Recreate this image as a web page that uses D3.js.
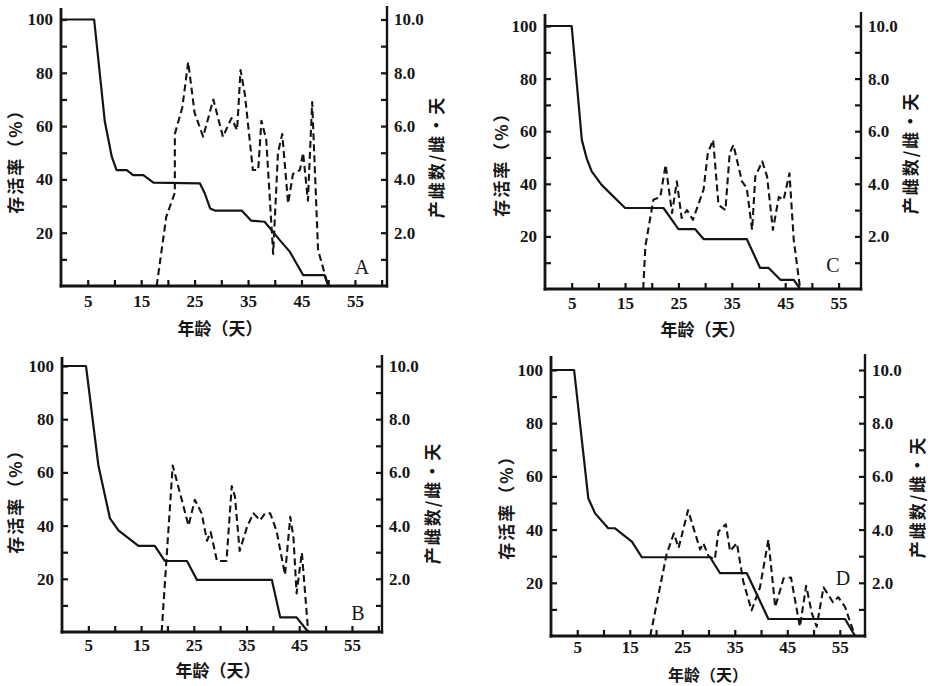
<!DOCTYPE html>
<html>
<head>
<meta charset="utf-8">
<script src="https://cdn.jsdelivr.net/npm/d3@7"></script>
<style>
  body { margin: 0; background: #fff; }
  svg { display: block; }
  .num { font-family: "Liberation Serif", "DejaVu Serif", serif; font-weight: bold; font-size: 17px; fill: #161616; }
  .cjk { font-family: "Noto Sans CJK SC", sans-serif; font-weight: 700; font-size: 17px; fill: #161616; }
  .letter { font-family: "Liberation Serif", serif; font-size: 20px; fill: #161616; }
</style>
</head>
<body>
<svg id="chart" width="937" height="686"></svg>
<script>
// tick values
const leftTicks = [10, 20, 30, 40, 50, 60, 70, 80, 90, 100];
const rightTicks = [1, 2, 3, 4, 5, 6, 7, 8, 9, 10];
const xTicks = [5, 10, 15, 20, 25, 30, 35, 40, 45, 50, 55, 60];

// A: survival (%) and daily fecundity
const survDayA = [0, 6.2, 8.2, 9.5, 10.4, 12.3, 13.5, 15.4, 17.3, 26, 26.9, 27.9, 28.8, 33.8, 35.6, 38.1, 40.9, 42.8, 45.3, 49.3, 50];
const survA = [100, 100, 61.7, 48.5, 43.5, 43.5, 41.6, 41.6, 38.8, 38.5, 34.8, 29.1, 28.3, 28.3, 24.5, 24.1, 17.3, 12.9, 4.1, 4.1, 0];
const eggDayA = [17.9, 19.7, 21.3, 21.3, 22.7, 23.8, 25, 26.6, 28.5, 30.3, 31.9, 32.95, 33.6, 34.4, 35.9, 36.9, 37.5, 38.4, 39.7, 40.6, 41.4, 42.5, 43.4, 44.7, 45.3, 46.2, 47.0, 48.1, 50];
const eggA = [0, 2.6, 3.5, 5.7, 6.7, 8.4, 6.5, 5.6, 7.0, 5.6, 6.3, 5.85, 8.1, 7.2, 4.35, 4.35, 6.2, 5.5, 1.2, 5.0, 5.7, 3.1, 4.2, 4.35, 5.0, 3.2, 6.9, 1.35, 0];

// B
const survDayB = [0, 4.55, 6.9, 9.1, 10.7, 14.5, 17.6, 19.5, 23.7, 25.6, 39.8, 41.4, 44.5, 46.7];
const survB = [100, 100, 62.6, 42.7, 38.2, 32.4, 32.4, 26.7, 26.7, 19.6, 19.6, 5.5, 5.5, 0];
const eggDayB = [18.9, 21, 24, 25.2, 26.5, 27.5, 28.2, 29.4, 31.2, 32.2, 32.8, 33.7, 35.1, 36.3, 37.6, 38.5, 39.5, 40.7, 42.3, 43.3, 43.9, 44.5, 45.5, 46.7];
const eggB = [0, 6.26, 4.0, 4.97, 4.46, 3.43, 3.76, 2.67, 2.67, 5.49, 5.1, 3.05, 3.95, 4.46, 4.2, 4.46, 4.46, 3.8, 2.15, 4.33, 3.56, 1.45, 2.99, 0];

// C
const survDayC = [0, 5.0, 6.9, 7.8, 8.75, 10.6, 15.0, 22.2, 25.0, 28.1, 29.7, 37.8, 40.3, 41.9, 44.1, 46.6, 47.8];
const survC = [100, 100, 56.7, 49.7, 44.7, 39.6, 30.8, 30.8, 22.8, 22.8, 19.0, 19.0, 8.0, 8.0, 3.5, 3.5, 0];
const eggDayC = [18.4, 18.8, 20.3, 21.6, 22.6, 23.8, 24.7, 25.6, 26.6, 27.7, 29.7, 30.5, 31.5, 32.5, 33.8, 34.6, 35.3, 36.9, 37.8, 38.8, 39.4, 40.7, 41.6, 42.7, 43.8, 44.7, 45.8, 46.6, 47.8];
const eggC = [0, 1.62, 3.39, 3.5, 4.72, 2.89, 4.09, 2.7, 3.0, 2.63, 3.77, 5.16, 5.67, 3.2, 3.0, 5.16, 5.48, 4.09, 3.84, 2.25, 4.28, 4.85, 4.28, 2.25, 3.5, 3.39, 4.4, 1.87, 0];

// D
const survDayD = [0, 4.4, 7.1, 8.4, 10.9, 12.2, 15.4, 17.3, 30.3, 32.2, 37.3, 41.4, 56.0, 57.9];
const survD = [100, 100, 51.8, 46.1, 40.5, 40.5, 35.5, 29.6, 29.6, 23.6, 23.6, 6.4, 6.4, 0];
const eggDayD = [18.9, 22.0, 23.4, 24.3, 26.1, 28.4, 29.0, 30.0, 31.2, 31.9, 33.3, 34.1, 35.4, 36.6, 38.2, 39.8, 41.4, 42.7, 44.3, 45.7, 47.4, 48.6, 49.7, 50.6, 51.9, 53.7, 54.7, 56.0, 57.9];
const eggD = [0, 3.06, 3.86, 3.31, 4.73, 3.25, 3.49, 3.0, 2.88, 3.93, 4.2, 3.19, 3.49, 2.07, 0.96, 1.83, 3.62, 1.09, 2.17, 2.2, 0.35, 1.89, 0.84, 0.35, 1.83, 1.27, 1.46, 1.09, 0];

const leftTitle = "存活率（%）";
const rightTitle = "产雌数/雌·天";
const xTitle = "年龄（天）";

let panels = [
  { name: "A", survDay: survDayA, surv: survA, eggDay: eggDayA, egg: eggA,
    x0: 61, x1: 387, xMax: 61, y0: 286, y100: 19.5, axTop: 8, xPad: 9,
    letter: [362, 267], yl: [16, 157], yr: [437, 157], xl: [220, 329] },
  { name: "C", survDay: survDayC, surv: survC, eggDay: eggDayC, egg: eggC,
    x0: 545, x1: 861, xMax: 59.2, y0: 289, y100: 26, axTop: 14, xPad: 8,
    letter: [833, 265], yl: [502, 160], yr: [911, 153], xl: [703, 330] },
  { name: "B", survDay: survDayB, surv: survB, eggDay: eggDayB, egg: eggB,
    x0: 62, x1: 382, xMax: 60.7, y0: 632, y100: 366, axTop: 357, xPad: 7,
    letter: [358, 613], yl: [16, 497], yr: [433, 503], xl: [218, 671] },
  { name: "D", survDay: survDayD, surv: survD, eggDay: eggDayD, egg: eggD,
    x0: 551, x1: 865, xMax: 59.8, y0: 636, y100: 370, axTop: 356, xPad: 5,
    letter: [843, 578], yl: [507, 503], yr: [918, 497], xl: [708, 675] },
];

const svg = d3.select("#chart");
const ink = "#141414";

panels.forEach(drawPanel);

function drawPanel(p) {
  let g = svg.append("g").attr("class", "panel-" + p.name);

  let x = d3.scaleLinear().domain([0, p.xMax]).range([p.x0, p.x1]);
  let y = d3.scaleLinear().domain([0, 100]).range([p.y0, p.y100]);
  let yR = d3.scaleLinear().domain([0, 10]).range([p.y0, p.y100]);

  // left axis
  g.append("g")
    .attr("transform", `translate(${p.x0},0)`)
    .call(
      d3.axisLeft(y)
        .tickValues(leftTicks)
        .tickSizeInner(-6)
        .tickSizeOuter(0)
        .tickPadding(8)
        .tickFormat((d) => (d % 20 === 0 ? d : ""))
    )
    .call(styleAxis);

  // right axis
  g.append("g")
    .attr("transform", `translate(${p.x1},0)`)
    .call(
      d3.axisRight(yR)
        .tickValues(rightTicks)
        .tickSizeInner(-6)
        .tickSizeOuter(0)
        .tickPadding(7)
        .tickFormat((d) => (d % 2 === 0 ? d3.format(".1f")(d) : ""))
    )
    .call(styleAxis);

  // bottom axis
  g.append("g")
    .attr("transform", `translate(0,${p.y0})`)
    .call(
      d3.axisBottom(x)
        .tickValues(xTicks.filter((d) => d < p.xMax))
        .tickSizeInner(-6)
        .tickSizeOuter(0)
        .tickPadding(p.xPad)
        .tickFormat((d) => (d % 10 === 5 ? d : ""))
    )
    .call(styleAxis);

  // axis frame lines
  g.append("line")
    .attr("x1", p.x0).attr("x2", p.x0)
    .attr("y1", p.axTop).attr("y2", p.y0 + 1.5)
    .attr("stroke", ink).attr("stroke-width", 2.8);
  g.append("line")
    .attr("x1", p.x1).attr("x2", p.x1)
    .attr("y1", p.axTop - 2).attr("y2", p.y0 + 1.5)
    .attr("stroke", ink).attr("stroke-width", 2.4);
  g.append("line")
    .attr("x1", p.x0 - 1.4).attr("x2", p.x1 + 1.2)
    .attr("y1", p.y0).attr("y2", p.y0)
    .attr("stroke", ink).attr("stroke-width", 3);

  // survival curve
  let survLine = d3.line().x((d) => x(d[0])).y((d) => y(d[1]));
  g.append("path")
    .datum(d3.zip(p.survDay, p.surv))
    .attr("d", survLine)
    .attr("fill", "none")
    .attr("stroke", ink)
    .attr("stroke-width", 2.2)
    .attr("stroke-linejoin", "round");

  // fecundity curve
  let eggLine = d3.line().x((d) => x(d[0])).y((d) => yR(d[1]));
  g.append("path")
    .datum(d3.zip(p.eggDay, p.egg))
    .attr("d", eggLine)
    .attr("fill", "none")
    .attr("stroke", ink)
    .attr("stroke-width", 2.1)
    .attr("stroke-dasharray", "7,4")
    .attr("stroke-linejoin", "round");

  // titles
  g.append("text")
    .attr("class", "cjk")
    .attr("transform", `translate(${p.yl[0]},${p.yl[1]}) rotate(-90)`)
    .attr("text-anchor", "middle")
    .attr("dy", "0.35em")
    .style("letter-spacing", "2px")
    .text(leftTitle);
  g.append("text")
    .attr("class", "cjk")
    .attr("transform", `translate(${p.yr[0]},${p.yr[1]}) rotate(-90)`)
    .attr("text-anchor", "middle")
    .attr("dy", "0.35em")
    .style("letter-spacing", "2px")
    .text(rightTitle);
  g.append("text")
    .attr("class", "cjk")
    .attr("x", p.xl[0])
    .attr("y", p.xl[1])
    .attr("text-anchor", "middle")
    .attr("dy", "0.35em")
    .style("font-size", p.name === "D" ? "16px" : null)
    .text(xTitle);

  g.append("text")
    .attr("class", "letter")
    .attr("x", p.letter[0])
    .attr("y", p.letter[1])
    .attr("text-anchor", "middle")
    .attr("dy", "0.35em")
    .text(p.name);
}

function styleAxis(sel) {
  sel.select(".domain").remove();
  sel.selectAll(".tick line").attr("stroke", ink).attr("stroke-width", 2.2);
  sel.selectAll(".tick text").attr("class", "num").attr("fill", null);
  sel.attr("font-family", null).attr("font-size", null);
}
</script>
</body>
</html>
